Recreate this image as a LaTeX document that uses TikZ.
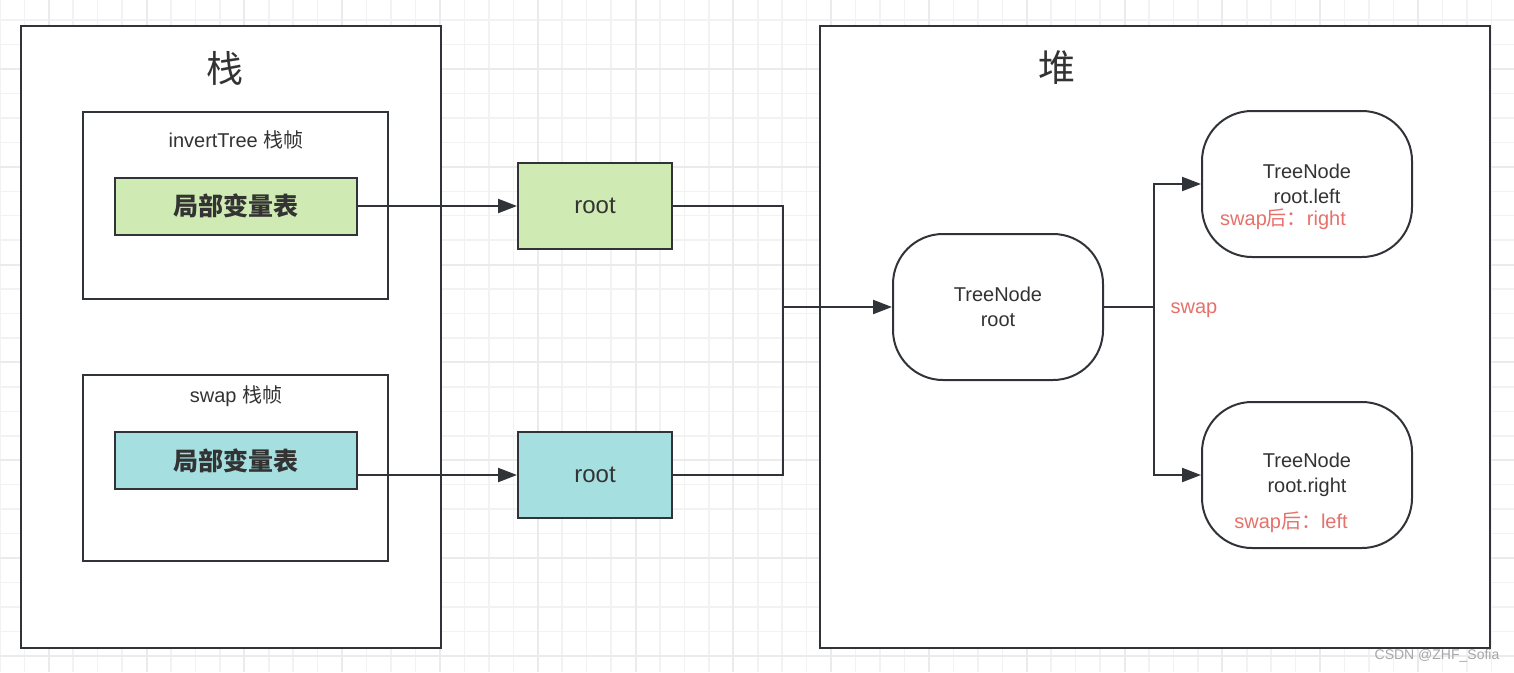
\documentclass[tikz,border=0pt]{standalone}
\usepackage{fontspec}
\setmainfont{Liberation Sans}
\newfontfamily\cjk{Noto Sans CJK SC}
\usepackage{tikz}
\usetikzlibrary{arrows.meta,positioning}

\definecolor{linegray}{HTML}{303338}
\definecolor{textgray}{HTML}{333333}
\definecolor{vargreen}{HTML}{CFEAB2}
\definecolor{varblue}{HTML}{A5DFE0}
\definecolor{notered}{HTML}{E6716B}
\definecolor{gridthin}{HTML}{F2F2F2}
\definecolor{gridthick}{HTML}{EBEBEB}

\tikzset{
  area/.style={draw=linegray, line width=2pt, fill=white, inner sep=0pt},
  framebox/.style={draw=linegray, line width=2pt, fill=white, inner sep=0pt,
    minimum width=305pt, minimum height=187pt},
  varbox/.style={draw=linegray, line width=2pt, inner sep=0pt,
    minimum width=242pt, minimum height=57pt, text=textgray,
    font=\cjk\bfseries\fontsize{25}{28}\selectfont},
  refbox/.style={draw=linegray, line width=2pt, inner sep=0pt,
    minimum width=154pt, minimum height=86pt, text=textgray,
    font=\fontsize{24}{28}\selectfont},
  objnode/.style={draw=linegray, line width=2pt, fill=white, rounded corners=50pt,
    minimum width=210pt, minimum height=146pt, align=center, text=textgray,
    font=\fontsize{20}{25.5}\selectfont},
  title/.style={text=textgray, font=\cjk\fontsize{37}{40}\selectfont},
  caption/.style={text=textgray, font=\fontsize{20}{24}\selectfont},
  note/.style={text=notered, font=\fontsize{20}{24}\selectfont},
  link/.style={draw=linegray, line width=2.2pt},
  pointer/.style={link, -{Triangle[length=19pt,width=14pt]}}
}

\begin{document}
\begin{tikzpicture}[x=1pt,y=-1pt]
  \useasboundingbox (0,0) rectangle (1514,672);
  % Grid background
  \fill[white] (0,0) rectangle (1514,672);
  \foreach \k in {-2,...,59}
    \draw[gridthin, line width=1.5pt] ({48.7+24.45*\k},0) -- ++(0,672);
  \foreach \k in {-2,...,24}
    \draw[gridthin, line width=1.5pt] (0,{69+24.45*\k}) -- ++(1514,0);
  \foreach \k in {-4,0,...,56}
    \draw[gridthick, line width=2pt] ({48.7+24.45*\k},0) -- ++(0,672);
  \foreach \k in {-4,0,...,24}
    \draw[gridthick, line width=2pt] (0,{69+24.45*\k}) -- ++(1514,0);

  % Stack and heap areas
  \node[area, minimum width=420pt, minimum height=622pt] (stack) at (231,337) {};
  \node[area, minimum width=670pt, minimum height=622pt] (heap) at (1155,337) {};
  \node[title] (stackTitle) at (225,68) {栈};
  \node[title] (heapTitle) at (1057,68) {堆};

  % Stack frames
  \node[framebox] (invertFrame) at (235.5,205.5) {};
  \node[caption] (invertLabel) at (236,140) {invertTree {\cjk 栈帧}};
  \node[varbox, fill=vargreen] (invertVars) at (236,206) {局部变量表};
  \node[framebox, minimum height=186pt] (swapFrame) at (235.5,468) {};
  \node[caption] (swapLabel) at (236,396) {swap {\cjk 栈帧}};
  \node[varbox, fill=varblue] (swapVars) at (236,460.5) {局部变量表};

  % References
  \node[refbox, fill=vargreen] (rootA) at (595,206) {root};
  \node[refbox, fill=varblue] (rootB) at (595,475) {root};

  % Tree nodes on the heap
  \node[objnode] (treeRoot) at (998,307) {TreeNode\\root};
  \node[objnode] (leftNode) at (1307,184) {TreeNode\\root.left};
  \node[objnode] (rightNode) at (1307,475) {TreeNode\\root.right};
  \node[note] (leftNote) at (1283,219) {swap{\cjk 后：}right};
  \node[note] (rightNote) at (1291,522) {swap{\cjk 后：}left};
  \node[note] (swapNote) at (1194,310) {swap};

  % Connectors
  \coordinate (merge) at (783,307);
  \coordinate (split) at (1154,307);
  \draw[pointer] (invertVars.east) -- (rootA.west);
  \draw[pointer] (swapVars.east |- rootB.west) -- (rootB.west);
  \draw[link] (rootA.east) -| (merge);
  \draw[link] (rootB.east) -| (merge);
  \draw[pointer] (merge) -- (treeRoot.west);
  \draw[link] (treeRoot.east) -- (split);
  \draw[pointer] (split) |- (leftNode.west);
  \draw[pointer] (split) |- (rightNode.west);

  % Watermark
  \node[text=black!35, font=\fontsize{14}{16}\selectfont] (mark) at (1437,656) {CSDN @ZHF\_Sofia};
\end{tikzpicture}
\end{document}
